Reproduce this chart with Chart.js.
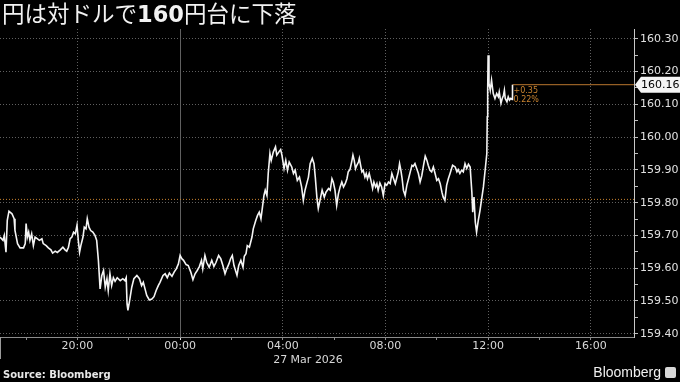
<!DOCTYPE html>
<html>
<head>
<meta charset="utf-8">
<script src="https://cdn.jsdelivr.net/npm/chart.js@4.4.1/dist/chart.umd.min.js"></script>
<style>
  html, body { margin: 0; padding: 0; background: #000; }
  #wrap { position: relative; width: 680px; height: 382px; overflow: hidden; background: #000; }
  #title { position: absolute; left: 2px; top: 0px; color: #f2f2f2; font: 22.5px/28px "DejaVu Sans", "Noto Sans CJK JP", sans-serif; white-space: nowrap; }
  #title b { font-weight: bold; }
  #source { position: absolute; left: 3px; top: 369px; color: #e8e8e8; font: bold 10px/12px "DejaVu Sans", sans-serif; }
  #logo { position: absolute; right: 4px; top: 364px; color: #f0f0f0; font: 14px/16px "Liberation Sans", sans-serif; }
  #logo span { display: inline-block; width: 11px; height: 11px; background: #d8d8d8; border-radius: 2px; margin-left: 4px; vertical-align: -1px; }
  canvas { position: absolute; left: 0; top: 0; }
</style>
</head>
<body>
<div id="wrap">
  <canvas id="chart" width="680" height="382" style="width:680px;height:382px"></canvas>
  <div id="title">円は対ドルで<b>160</b>円台に下落</div>
  <div id="source">Source: Bloomberg</div>
  <div id="logo">Bloomberg<span></span></div>
</div>
<script>
// minutes from 00:00 on 27 Mar 2026 (negative = 26 Mar)
const minutes = [
  -421,-414,-411,-407,-404,-400,-393,-388,-386,-380,-374,-366,-362,-360,-357,-354,-351,-347,-343,-339,
  -334,-329,-323,-320,-313,-308,-302,-298,-292,-287,-280,-274,-269,-265,-261,-257,-253,-249,-245,-241,
  -238,-235,-232,-227,-224,-220,-217,-213,-209,-204,-199,-195,-191,-187,-183,-179,-175,-171,-168,-164,
  -160,-156,-152,-147,-140,-134,-129,-126,-124,-122,-118,-113,-108,-101,-95,-90,-86,-82,-78,-72,
  -66,-61,-56,-51,-47,
  -40,-35,-30,-25,-19,-14,-9,-4,0,4,8,14,19,25,30,35,40,45,50,53,
  58,62,68,74,79,84,90,95,100,105,109,114,118,122,126,133,137,142,147,150,
  154,157,162,168,171,177,181,185,189,193,196,199,203,206,210,213,218,223,226,231,
  235,238,243,247,251,255,261,265,269,274,279,284,288,292,296,300,304,309,313,316,
  320,323,327,332,337,341,347,351,
  355,358,362,366,370,374,378,382,386,390,393,397,401,404,407,410,413,417,419,422,
  425,428,432,435,438,442,446,450,453,457,460,463,467,471,475,479,483,487,491,495,
  499,503,506,510,513,516,519,522,526,530,534,538,542,545,549,553,557,561,565,569,
  573,577,580,584,588,592,596,600,604,608,612,615,619,623,627,631,637,643,647,650,
  654,658,662,666,670,674,678,682,684,687,690,693,697,701,705,709,713,717,718,719,
  720,722,725,728,730,732,736,740,744,746,750,753,756,758,760,764,767,770,773,776,
  777
];

// USD/JPY
const prices = [
  159.695,159.685,159.700,159.649,159.746,159.774,159.766,159.751,159.715,159.675,
  159.662,159.662,159.675,159.736,159.695,159.710,159.685,159.705,159.669,159.695,
  159.690,159.685,159.690,159.675,159.669,159.662,159.656,159.646,159.652,159.648,
  159.656,159.664,159.656,159.652,159.664,159.690,159.695,159.710,159.705,159.731,
  159.685,159.649,159.669,159.695,159.725,159.720,159.751,159.725,159.715,159.710,
  159.700,159.685,159.624,159.537,159.578,159.593,159.542,159.568,159.532,159.583,
  159.547,159.571,159.560,159.571,159.562,159.568,159.562,159.571,159.491,159.471,
  159.501,159.542,159.568,159.578,159.568,159.547,159.557,159.537,159.517,159.503,
  159.506,159.513,159.532,159.547,159.557,
  159.578,159.583,159.571,159.585,159.575,159.588,159.598,159.613,159.639,159.629,
  159.624,159.611,159.608,159.588,159.565,159.583,159.593,159.605,159.624,159.598,
  159.639,159.618,159.603,159.624,159.605,159.618,159.639,159.629,159.608,159.583,
  159.598,159.613,159.629,159.639,159.608,159.578,159.608,159.624,159.603,159.636,
  159.644,159.669,159.664,159.695,159.720,159.746,159.761,159.771,159.751,159.792,
  159.822,159.838,159.822,159.889,159.950,159.929,159.955,159.970,159.945,159.955,
  159.962,159.945,159.904,159.929,159.899,159.924,159.909,159.889,159.899,159.868,
  159.878,159.848,159.807,159.838,159.858,159.878,159.919,159.935,159.919,159.878,
  159.812,159.782,159.807,159.838,159.817,159.832,159.843,159.838,
  159.873,159.863,159.838,159.792,159.827,159.848,159.863,159.848,159.858,159.873,
  159.894,159.901,159.924,159.945,159.929,159.904,159.914,159.924,159.935,159.914,
  159.894,159.899,159.878,159.889,159.873,159.889,159.868,159.843,159.863,159.848,
  159.858,159.838,159.860,159.848,159.822,159.858,159.853,159.863,159.858,159.889,
  159.873,159.858,159.873,159.894,159.919,159.899,159.873,159.838,159.822,159.853,
  159.873,159.894,159.914,159.911,159.919,159.904,159.889,159.863,159.883,159.914,
  159.942,159.929,159.914,159.899,159.894,159.909,159.889,159.868,159.873,159.858,
  159.832,159.817,159.807,159.853,159.873,159.889,159.914,159.909,159.894,159.901,
  159.889,159.899,159.894,159.919,159.904,159.917,159.909,159.832,159.771,159.817,
  159.741,159.710,159.746,159.776,159.812,159.848,159.899,159.950,160.062,160.143,
  160.250,160.164,160.143,160.174,160.153,160.133,160.118,160.133,160.123,160.138,
  160.103,160.118,160.128,160.143,160.118,160.108,160.123,160.113,160.118,160.115,
  160.160
];

const prevClose = 159.81;
const changeLabels = ['+0.35', '0.22%'];
const dateLabel = '27 Mar 2026';
const xTickValues = [-360, -240, -120, 0, 120, 240, 360, 480, 600, 720, 840, 960];
const yTickValues = [159.40, 159.45, 159.50, 159.55, 159.60, 159.65, 159.70, 159.75, 159.80, 159.85,
                     159.90, 159.95, 160.00, 160.05, 160.10, 160.15, 160.20, 160.25, 160.30];

const X_MIN = -421, X_MAX = 1061, Y_MIN = 159.39, Y_MAX = 160.33;
const ORANGE = '#c9832f';
const GRID = '#606060';
const tickFont = { family: 'DejaVu Sans', size: 11 };

const lastT = minutes[minutes.length - 1];
const lastP = prices[prices.length - 1];

function hhmm(m) {
  m = ((m % 1440) + 1440) % 1440;
  const h = Math.floor(m / 60), mm = m % 60;
  return String(h).padStart(2, '0') + ':' + String(mm).padStart(2, '0');
}
const isMajorY = v => Math.round(v * 100) % 10 === 0;

const extras = {
  id: 'extras',
  afterDraw(chart) {
    const { ctx, scales: { x, y } } = chart;
    ctx.save();
    // change annotation
    const xl = x.getPixelForValue(lastT);
    const yl = y.getPixelForValue(lastP);
    ctx.fillStyle = ORANGE;
    ctx.font = '8px "DejaVu Sans"';
    ctx.textBaseline = 'middle';
    ctx.textAlign = 'left';
    ctx.fillText(changeLabels[0], xl + 1, yl + 6);
    ctx.fillText(changeLabels[1], xl + 1, yl + 15);
    // last price tag
    const ax = chart.chartArea.right;
    ctx.fillStyle = '#f4f4f4';
    ctx.beginPath();
    ctx.moveTo(ax + 1, yl);
    ctx.lineTo(ax + 7, yl - 8);
    ctx.lineTo(680, yl - 8);
    ctx.lineTo(680, yl + 8);
    ctx.lineTo(ax + 7, yl + 8);
    ctx.closePath();
    ctx.fill();
    ctx.fillStyle = '#000';
    ctx.font = '11px "DejaVu Sans"';
    ctx.fillText(lastP.toFixed(2), ax + 7, yl + 0.5);
    // date under the axis
    ctx.fillStyle = '#d8d8d8';
    ctx.textAlign = 'center';
    ctx.textBaseline = 'alphabetic';
    ctx.fillText(dateLabel, 308, 362.5);
    // left edge tick
    ctx.strokeStyle = '#9a9a9a';
    ctx.lineWidth = 1;
    ctx.beginPath();
    ctx.moveTo(0.5, chart.chartArea.bottom);
    ctx.lineTo(0.5, chart.chartArea.bottom + 22);
    ctx.stroke();
    ctx.restore();
  }
};

new Chart(document.getElementById('chart'), {
  type: 'line',
  data: {
    datasets: [
      {
        data: minutes.map((m, i) => ({ x: m, y: prices[i] })),
        borderColor: '#f4f4f4',
        borderWidth: 1.6,
        pointRadius: 0,
        tension: 0
      },
      {
        data: [{ x: X_MIN, y: prevClose }, { x: X_MAX, y: prevClose }],
        borderColor: ORANGE,
        borderWidth: 1,
        borderDash: [1, 2],
        pointRadius: 0
      },
      {
        data: [{ x: lastT, y: lastP }, { x: X_MAX, y: lastP }],
        borderColor: '#b8762e',
        borderWidth: 1,
        pointRadius: 0
      }
    ]
  },
  options: {
    responsive: false,
    animation: false,
    devicePixelRatio: 1,
    layout: { padding: { top: 29, left: 0, right: 0, bottom: 0 } },
    plugins: { legend: { display: false }, tooltip: { enabled: false } },
    scales: {
      x: {
        type: 'linear',
        min: X_MIN,
        max: X_MAX,
        afterBuildTicks: s => { s.ticks = xTickValues.map(v => ({ value: v })); },
        afterFit: s => { s.height = 45; },
        ticks: {
          autoSkip: false,
          maxRotation: 0,
          padding: 0,
          color: '#d8d8d8',
          font: tickFont,
          callback: v => (v % 240 === 0 ? hhmm(v) : '')
        },
        grid: {
          color: c => (c.tick && c.tick.value % 240 === 0 ? GRID : 'rgba(0,0,0,0)'),
          tickColor: c => (c.tick && c.tick.value === 0 ? '#e0e0e0' : '#8a8a8a'),
          tickLength: 3,
          lineWidth: 1
        },
        border: {
          color: '#8c8c8c',
          dash: c => (c.tick && c.tick.value === 0 ? [] : [1, 2])
        }
      },
      y: {
        position: 'right',
        min: Y_MIN,
        max: Y_MAX,
        afterBuildTicks: s => { s.ticks = yTickValues.map(v => ({ value: v })); },
        afterFit: s => { s.width = 46; },
        ticks: {
          padding: 2,
          color: '#e0e0e0',
          font: tickFont,
          callback: v => (isMajorY(v) ? v.toFixed(2) : '')
        },
        grid: {
          color: c => (c.tick && isMajorY(c.tick.value) ? GRID : 'rgba(0,0,0,0)'),
          tickColor: '#bdbdbd',
          tickLength: 4,
          lineWidth: 1
        },
        border: {
          color: '#c8c8c8',
          dash: [1, 2]
        }
      }
    }
  },
  plugins: [extras]
});
</script>
</body>
</html>
